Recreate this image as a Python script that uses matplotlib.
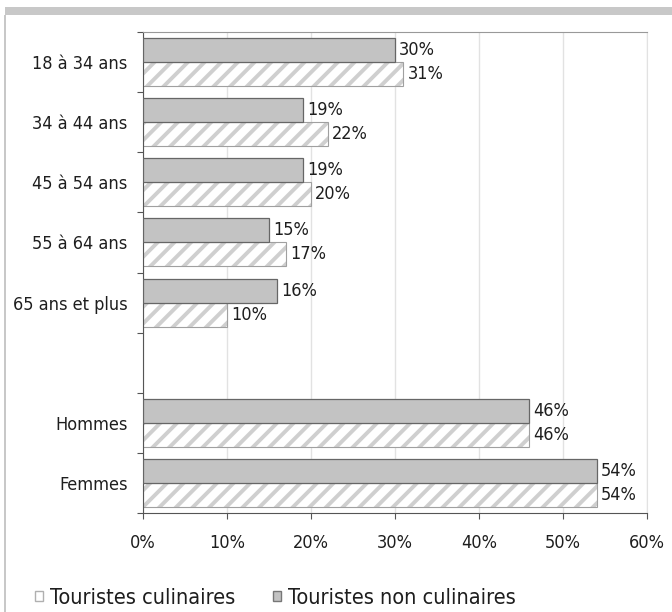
import numpy as np
import matplotlib.pyplot as plt
from matplotlib.patches import Patch, Rectangle

plt.rcParams['font.family'] = ['DejaVu Sans']
plt.rcParams['font.stretch'] = 'condensed'
plt.rcParams['hatch.linewidth'] = 2.8

# Data (top to bottom, '' = empty slot)
categories = ['18 à 34 ans', '34 à 44 ans', '45 à 54 ans', '55 à 64 ans',
              '65 ans et plus', '', 'Hommes', 'Femmes']
culinaires = [31, 22, 20, 17, 10, None, 46, 54]
non_culinaires = [30, 19, 19, 15, 16, None, 46, 54]
xticks = [0, 10, 20, 30, 40, 50, 60]

FS = 13
TXT = '#1e1e1e'

fig = plt.figure(figsize=(6.72, 6.12), dpi=100)
ax = fig.add_axes([143 / 672, 1 - 513 / 612, 504 / 672, 481 / 612])

# frame decoration
fig.patches.append(Rectangle((5 / 672, 1 - 15 / 612), 1, 8 / 612, transform=fig.transFigure,
                             facecolor='#c8c8c8', edgecolor='none'))
fig.patches.append(Rectangle((4 / 672, 0), 2 / 672, 1 - 15 / 612, transform=fig.transFigure,
                             facecolor='#c8c8c8', edgecolor='none'))

y = np.arange(len(categories))
h = 0.4
for i, (c, n) in enumerate(zip(culinaires, non_culinaires)):
    if c is None:
        continue
    # hatched bar: hatch layer then outline
    ax.barh(i + h / 2, c, height=h, color='white', edgecolor='#cfcfcf', linewidth=0,
            hatch='//', zorder=2)
    ax.barh(i + h / 2, c, height=h, fill=False, edgecolor='#a0a0a0', linewidth=0.8, zorder=2.5)
    ax.barh(i - h / 2, n, height=h, color='#c3c3c3', edgecolor='#666666', linewidth=0.9, zorder=3)
    ax.text(n + 0.5, i - h / 2, f'{n}%', va='center', ha='left', fontsize=FS, color=TXT)
    ax.text(c + 0.5, i + h / 2, f'{c}%', va='center', ha='left', fontsize=FS, color=TXT)

ax.set_xlim(0, 60)
ax.set_ylim(len(categories) - 0.5, -0.5)
ax.set_xticks(xticks)
ax.set_xticklabels([f'{v}%' for v in xticks], fontsize=FS, color=TXT)
ax.tick_params(axis='x', length=4, color='#555555', pad=11)

ax.set_yticks(np.arange(len(categories) + 1) - 0.5)
ax.set_yticklabels([])
ax.set_yticks(y, minor=True)
ax.set_yticklabels(categories, minor=True, fontsize=FS, color=TXT)
ax.tick_params(axis='y', which='major', length=4, color='#555555')
ax.tick_params(axis='y', which='minor', length=0, pad=11)

ax.grid(axis='x', color='#e2e2e2', linewidth=1, zorder=0)
ax.set_axisbelow(True)
ax.spines['left'].set_color('#555555')
ax.spines['bottom'].set_color('#555555')
ax.spines['top'].set_color('#999999')
ax.spines['right'].set_color('#e2e2e2')

handles = [Patch(facecolor='white', edgecolor='#b0b0b0', label='Touristes culinaires'),
           Patch(facecolor='#c3c3c3', edgecolor='#777777', label='Touristes non culinaires')]
fig.legend(handles=handles, loc='center left', bbox_to_anchor=(35 / 672, 1 - 598 / 612), ncol=2,
           frameon=False, borderpad=0, borderaxespad=0,
           fontsize=15.6, handlelength=0.37, handleheight=0.37, handletextpad=0.32,
           columnspacing=1.75, labelcolor=TXT)

fig.savefig('out.png', dpi=100)
